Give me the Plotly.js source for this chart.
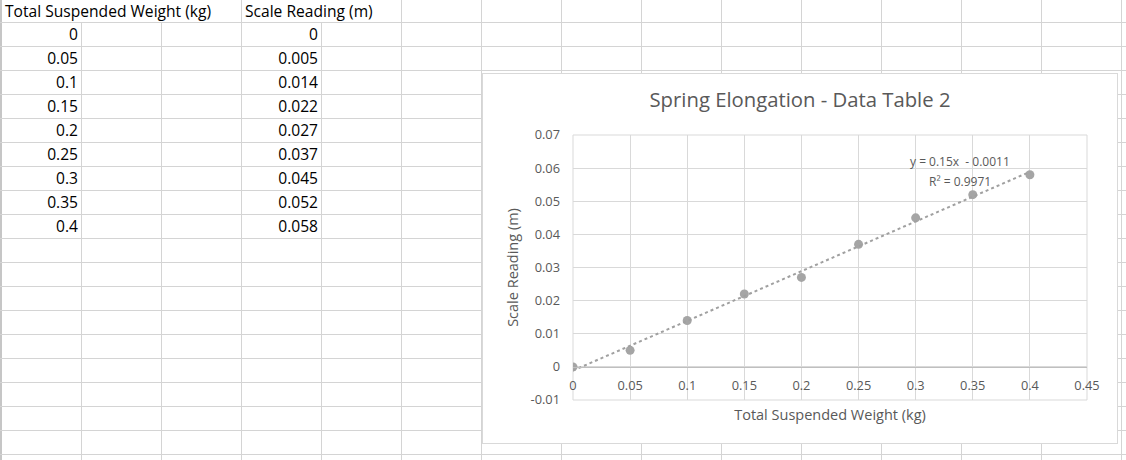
<!DOCTYPE html>
<html>
<head>
<meta charset="utf-8">
<script src="https://cdn.plot.ly/plotly-3.0.1.min.js"></script>
<style>
  html, body { margin: 0; padding: 0; background: #fff; }
  #sheet { position: relative; width: 1126px; height: 460px; overflow: hidden; background: #fff; font-family: "Open Sans", Lato, sans-serif; }
  .vl { position: absolute; width: 1px; background: #d4d4d4; }
  .hl { position: absolute; height: 1px; background: #d4d4d4; }
  .cell { position: absolute; height: 24px; line-height: 24px; font-size: 15.6px; color: #000; white-space: nowrap; }
  #chartbox { position: absolute; left: 482px; top: 73px; width: 636px; height: 371px; box-sizing: border-box; border: 1px solid #d9d9d9; background: #fff; }
  #chart { position: absolute; left: 0; top: 0; width: 634px; height: 369px; }
</style>
</head>
<body>
<div id="sheet">
  <div id="chartbox"><div id="chart"></div></div>
</div>
<script>
// ---- data ----
const headerWeight = "Total Suspended Weight (kg)";
const headerReading = "Scale Reading (m)";
const weights = [0, 0.05, 0.1, 0.15, 0.2, 0.25, 0.3, 0.35, 0.4];
const readings = [0, 0.005, 0.014, 0.022, 0.027, 0.037, 0.045, 0.052, 0.058];
const chartTitle = "Spring Elongation - Data Table 2";
const xTickVals = [0, 0.05, 0.1, 0.15, 0.2, 0.25, 0.3, 0.35, 0.4, 0.45];
const xTickText = ["0", "0.05", "0.1", "0.15", "0.2", "0.25", "0.3", "0.35", "0.4", "0.45"];
const yTickVals = [-0.01, 0, 0.01, 0.02, 0.03, 0.04, 0.05, 0.06, 0.07];
const yTickText = ["-0.01", "0", "0.01", "0.02", "0.03", "0.04", "0.05", "0.06", "0.07"];
const equationText = "y = 0.15x  - 0.0011";
const r2Text = "R\u00b2 = 0.9971";

// ---- spreadsheet grid ----
const sheet = document.getElementById('sheet');
const chartbox = document.getElementById('chartbox');
const colW = 80, rowH = 24, firstRow = 22, firstCol = 81;
function add(cls, style, text) {
  const d = document.createElement('div');
  d.className = cls;
  Object.assign(d.style, style);
  if (text !== undefined) d.textContent = text;
  sheet.insertBefore(d, chartbox);
  return d;
}
// left border
add('vl', {left: '0px', top: '0px', height: '460px', width: '2px', background: '#c6c6c6'});
// horizontal lines
for (let y = firstRow; y < 460; y += rowH) add('hl', {left: '0px', top: y + 'px', width: '1126px'});
// vertical lines (header text overflows over some of them in row 1)
const overflowCols = [81, 161, 321];
for (let x = firstCol; x < 1126; x += colW) {
  const top = overflowCols.includes(x) ? firstRow : 0;
  add('vl', {left: x + 'px', top: top + 'px', height: (460 - top) + 'px'});
}
// header cells
add('cell', {left: '5px', top: '-1px'}, headerWeight);
add('cell', {left: '245px', top: '-1px'}, headerReading);
// values (right aligned in their columns)
weights.forEach((w, i) => {
  add('cell', {left: '1px', width: '77px', textAlign: 'right', top: (firstRow + i * rowH) + 'px'}, String(w));
});
readings.forEach((r, i) => {
  add('cell', {left: '241px', width: '77px', textAlign: 'right', top: (firstRow + i * rowH) + 'px'}, String(r));
});

// ---- linear trendline (least squares from the data) ----
const n = weights.length;
const mx = weights.reduce((a, b) => a + b, 0) / n;
const my = readings.reduce((a, b) => a + b, 0) / n;
let sxy = 0, sxx = 0;
for (let i = 0; i < n; i++) { sxy += (weights[i] - mx) * (readings[i] - my); sxx += (weights[i] - mx) ** 2; }
const slope = sxy / sxx, intercept = my - slope * mx;
const trendX = [Math.min(...weights), Math.max(...weights)];
const trendY = trendX.map(x => slope * x + intercept);

const txt = '#595959';
const fontFam = '"Open Sans", Lato, sans-serif';
const data = [
  {x: weights, y: readings, type: 'scatter', mode: 'markers',
   marker: {color: '#a5a5a5', size: 9}, hoverinfo: 'skip'},
  {x: trendX, y: trendY, type: 'scatter', mode: 'lines',
   line: {color: '#a0a0a0', width: 2, dash: 'dot'}, hoverinfo: 'skip'}
];
const layout = {
  width: 634, height: 369,
  margin: {l: 90, r: 30, t: 61, b: 43},
  paper_bgcolor: '#fff', plot_bgcolor: '#fff',
  showlegend: false,
  font: {family: fontFam, color: txt, size: 12.5},
  title: {text: chartTitle, font: {size: 20.3, color: txt, family: fontFam},
          x: 0.5, xanchor: 'center', y: 0.93, yanchor: 'middle', xref: 'container', yref: 'container'},
  xaxis: {range: [0, 0.45], tickvals: xTickVals, ticktext: xTickText,
          showgrid: true, gridcolor: '#d9d9d9', gridwidth: 1, zeroline: false,
          showline: true, linecolor: '#bfbfbf', linewidth: 1,
          anchor: 'free', position: 0.125, ticks: '', ticklabelstandoff: 7,
          tickfont: {size: 12.8, color: txt},
          title: {text: headerWeight, font: {size: 14.5, color: txt}, standoff: 16}},
  yaxis: {range: [-0.01, 0.07], tickvals: yTickVals, ticktext: yTickText,
          showgrid: true, gridcolor: '#d9d9d9', gridwidth: 1,
          zeroline: false, showline: false, ticks: '', ticklabelstandoff: 12,
          tickfont: {size: 12.8, color: txt},
          title: {text: headerReading, font: {size: 14.5, color: txt}, standoff: 8}},
  shapes: [
    {type: 'rect', xref: 'paper', yref: 'paper', x0: 0, x1: 1, y0: 0, y1: 1,
     line: {color: '#d9d9d9', width: 1}, layer: 'below'}
  ],
  annotations: [
    {xref: 'paper', yref: 'paper', x: 0.753, y: 0.899, text: equationText, showarrow: false,
     xanchor: 'center', yanchor: 'middle', font: {size: 12, color: txt}},
    {xref: 'paper', yref: 'paper', x: 0.753, y: 0.825, text: r2Text, showarrow: false,
     xanchor: 'center', yanchor: 'middle', font: {size: 12, color: txt}}
  ]
};
Plotly.newPlot('chart', data, layout, {displayModeBar: false, staticPlot: true});
</script>
</body>
</html>
